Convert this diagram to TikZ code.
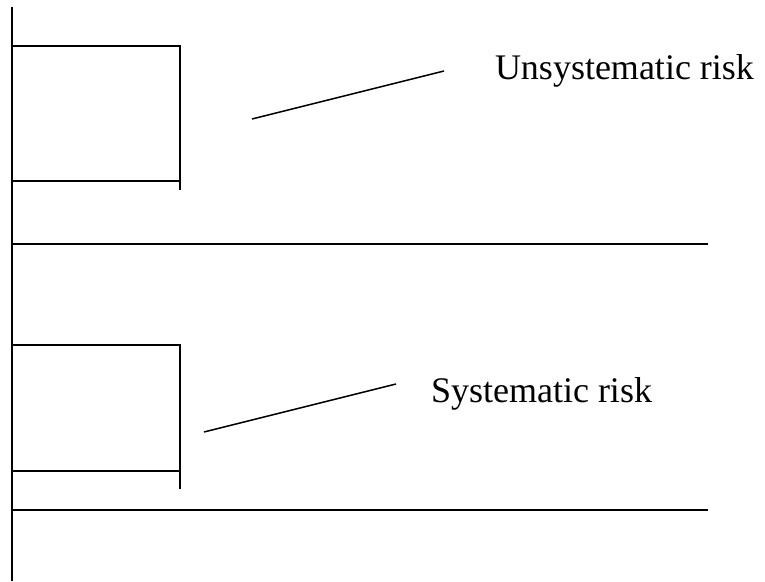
\documentclass[tikz,border=0pt]{standalone}
\usepackage{fontspec}
\setmainfont{Liberation Serif}
\begin{document}
\begin{tikzpicture}[x=1pt,y=-1pt,line width=2pt,
        risklabel/.style={anchor=base west,inner sep=0pt,font=\fontsize{36}{40}\selectfont}]
                \useasboundingbox (0,0) rectangle (765,581);
                \draw (12,7) -- (12,581);
                % upper block
                \draw (12,46) -- (180,46) -- (180,190);
                \draw (12,181) -- (180,181);
                \draw (12,244) -- (708,244);
                \node[risklabel] (unsys) at (494,79) {Unsystematic risk};
                \coordinate (unsysa) at (252,119);
                \coordinate (unsysb) at (444,71);
                \draw[line width=1.5pt] (unsysa) -- (unsysb);
                % lower block
                \draw (12,345) -- (180,345) -- (180,489);
                \draw (12,471) -- (180,471);
                \draw (12,510) -- (708,510);
                \node[risklabel] (sys) at (430,402) {Systematic risk};
                \coordinate (sysa) at (204,432);
                \coordinate (sysb) at (396,384);
                \draw[line width=1.5pt] (sysa) -- (sysb);
\end{tikzpicture}
\end{document}
